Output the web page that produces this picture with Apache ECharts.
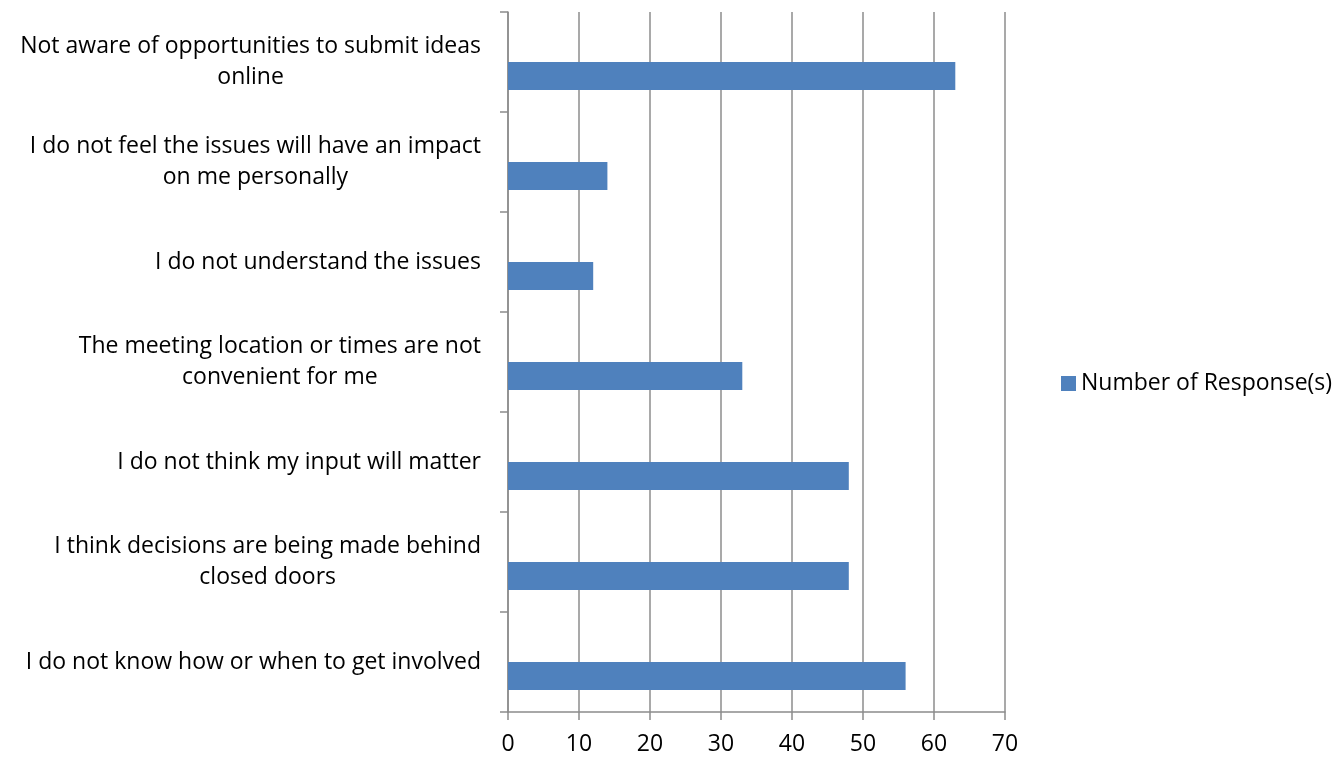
<!DOCTYPE html>
<html>
<head>
<meta charset="utf-8">
<script src="https://cdn.jsdelivr.net/npm/echarts@6/dist/echarts.min.js"></script>
<style>
  html, body { margin: 0; padding: 0; background: #fff; }
  #chart { width: 1339px; height: 760px; }
</style>
</head>
<body>
<div id="chart"></div>
<script>
// Reasons given for not taking part, listed top to bottom
const categories = [
  'Not aware of opportunities to submit ideas\nonline',
  'I do not feel the issues will have an impact\non me personally',
  'I do not understand the issues',
  'The meeting location or times are not\nconvenient for me',
  'I do not think my input will matter',
  'I think decisions are being made behind\nclosed doors',
  'I do not know how or when to get involved'
];
const seriesName = 'Number of Response(s)';
const responses = [63, 14, 12, 33, 48, 48, 56];
const xTicks = { min: 0, max: 70, interval: 10 };

const FONT = '"Open Sans", sans-serif';
const FS = 23;
const chart = echarts.init(document.getElementById('chart'), null, { renderer: 'canvas' });

chart.setOption({
  animation: false,
  grid: { left: 508, right: 334, top: 12, bottom: 48, containLabel: false },
  legend: {
    data: [seriesName],
    left: 1061, top: 372, padding: 0,
    itemWidth: 15, itemHeight: 15, itemGap: 8,
    icon: 'rect',
    textStyle: { fontFamily: FONT, fontSize: FS, color: '#000' }
  },
  xAxis: {
    type: 'value',
    min: xTicks.min, max: xTicks.max, interval: xTicks.interval,
    axisLine: { show: true, lineStyle: { color: '#8c8c8c', width: 1.5 } },
    axisTick: { show: true, length: 8, lineStyle: { color: '#8c8c8c', width: 1.5 } },
    axisLabel: { margin: 21, fontFamily: FONT, fontSize: FS, color: '#000' },
    splitLine: { show: true, lineStyle: { color: '#8c8c8c', width: 1.5 } }
  },
  yAxis: {
    type: 'category',
    inverse: true,
    data: categories,
    axisLine: { show: true, lineStyle: { color: '#8c8c8c', width: 1.5 } },
    axisTick: { show: true, length: 8, alignWithLabel: false, lineStyle: { color: '#8c8c8c', width: 1.5 } },
    axisLabel: {
      margin: 27,
      interval: 0,
      fontFamily: FONT, fontSize: FS, color: '#000',
      lineHeight: 31,
      formatter: v => v.split('\n').map(l => '{c|' + l + '}').join('\n'),
      rich: { c: { align: 'center', fontFamily: FONT, fontSize: FS, lineHeight: 31, color: '#000' } }
    },
    splitLine: { show: false }
  },
  series: [
    // empty companion slot keeps each bar in the lower half of its row
    {
      name: '_slot', type: 'bar', data: responses.map(() => null),
      barGap: '0%', barCategoryGap: '44%', silent: true
    },
    {
      name: seriesName, type: 'bar', data: responses,
      barGap: '0%', barCategoryGap: '44%',
      itemStyle: { color: '#4f81bd' }
    }
  ]
});
</script>
</body>
</html>
